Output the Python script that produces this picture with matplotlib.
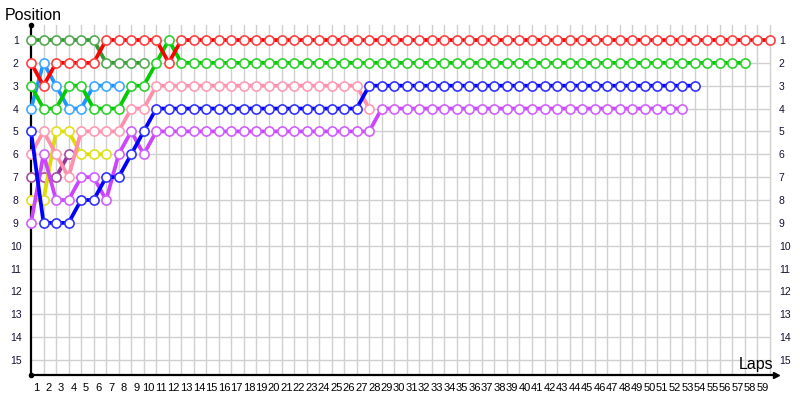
import numpy as np
import matplotlib
matplotlib.use("Agg")
import matplotlib.pyplot as plt

# position of each driver from the start (lap 0) until he stops
red = [2, 3, 2, 2, 2, 2, 1, 1, 1, 1, 1, 2] + [1] * 48
dark_green = [1, 1, 1, 1, 1, 1, 2, 2, 2, 2]
green = [3, 4, 4, 3, 3, 4, 4, 4, 3, 3, 2, 1] + [2] * 46
light_blue = [4, 2, 3, 4, 4, 3, 3, 3]
blue = [5, 9, 9, 9, 8, 8, 7, 7, 6, 5] + [4] * 17 + [3] * 27
pink = [6, 5, 6, 7, 5, 5, 5, 5, 4, 4] + [3] * 17 + [4]
purple = [9, 6, 8, 8, 7, 7, 8, 6, 5, 6, 5] + [5] * 17 + [4] * 25
yellow = [8, 8, 5, 5, 6, 6, 6]
dark_purple = [7, 7, 7, 6]

lap_labels = [str(i) for i in range(1, 60)]
pos_labels = [str(i) for i in range(1, 16)]

drivers = [dark_purple, yellow, purple, pink, blue, light_blue, green, dark_green, red]
colors = ["#993399", "#dddd00", "#cc44ff", "#ff8fab", "#0000ff",
          "#1e96ff", "#00cc00", "#339933", "#ff0000"]
edges = ["#a64da6", "#e0e020", "#d060ff", "#ff9cb5", "#3333ff",
         "#40a8ff", "#30d030", "#55aa55", "#ff4040"]

plt.rcParams['font.family'] = ['Liberation Sans', 'DejaVu Sans']

fig = plt.figure(figsize=(8, 4), dpi=100)
ax = fig.add_axes([31 / 800, 25 / 400, 745 / 800, 350 / 400])

laps = np.arange(1, len(lap_labels) + 1)
positions = np.arange(1, len(pos_labels) + 1)

# grid: one vertical line per lap, one horizontal per position
ax.set_xticks(laps, minor=True)
ax.grid(which="minor", axis="x", color="#d0d0d0", lw=1)
ax.hlines(positions, 0, laps[-1], color="#d0d0d0", lw=1, zorder=0)

for series, c, e in zip(drivers, colors, edges):
    x = np.arange(len(series))
    ax.plot(x, series, color=c, lw=2.7, marker="o", ms=6.6,
            mfc="white", mec=e, mew=1.2, clip_on=False, zorder=3)

ax.set_xlim(0, 59.48)
ax.set_ylim(15.656, 0.344)

ax.set_xticks(laps - 0.6, lap_labels)
ax.tick_params(axis="x", which="both", length=0, pad=6, labelsize=8)
ax.set_yticks(positions, pos_labels)
ax.tick_params(axis="y", length=0, labelsize=7.5, labelcolor="#111133", pad=11)
for t in ax.get_yticklabels():
    t.set_horizontalalignment("center")

# labels repeated on the right side
ax2 = ax.twinx()
ax2.set_ylim(ax.get_ylim())
ax2.set_yticks(positions, pos_labels)
ax2.tick_params(axis="y", length=0, labelsize=7.5, labelcolor="#111133", pad=2)
for s in ax2.spines.values():
    s.set_visible(False)

for s in ["top", "right"]:
    ax.spines[s].set_visible(False)
for s in ["left", "bottom"]:
    ax.spines[s].set_linewidth(1.6)

ax.plot(0, 1, "ko", ms=3, transform=ax.transAxes, clip_on=False)
ax.plot(0, 0, "ko", ms=3, transform=ax.transAxes, clip_on=False)
ax.plot(1, 0, ">k", ms=5, transform=ax.transAxes, clip_on=False)

fig.text(5 / 800, 1 - 15 / 400, "Position", fontsize=11.5, va="center", ha="left")
fig.text(773 / 800, 1 - 365 / 400, "Laps", fontsize=11.5, va="center", ha="right")

fig.savefig("out.png", dpi=100)
